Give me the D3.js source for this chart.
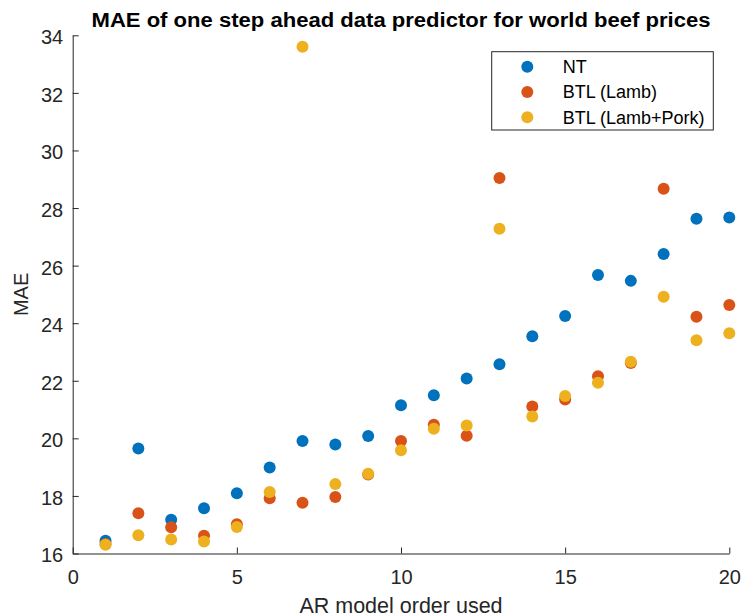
<!DOCTYPE html>
<html>
<head>
<meta charset="utf-8">
<script src="https://cdn.jsdelivr.net/npm/d3@7"></script>
<style>
  body { margin: 0; background: #fff; }
  svg { font-family: "Liberation Sans", Arial, Helvetica, sans-serif; }
  .axis path, .axis line { stroke: #262626; }
  .axis text { fill: #262626; font-size: 20px; }
</style>
</head>
<body>
<script>
// AR model orders
var orders = [1,2,3,4,5,6,7,8,9,10,11,12,13,14,15,16,17,18,19,20];

var nt = [16.44,19.65,17.17,17.57,18.09,18.99,19.91,19.79,20.08,21.15,
          21.50,22.08,22.57,23.55,24.25,25.67,25.47,26.40,27.63,27.67];
var btlLamb = [16.33,17.40,16.91,16.62,17.02,17.92,17.76,17.96,18.74,19.91,
               20.47,20.09,29.04,21.11,21.35,22.16,22.62,28.67,24.22,24.63];
var btlLambPork = [16.30,16.63,16.49,16.42,16.92,18.14,33.60,18.41,18.77,19.59,
                   20.33,20.45,27.28,20.76,21.47,21.93,22.66,24.92,23.41,23.65];

var seriesNames = ['NT', 'BTL (Lamb)', 'BTL (Lamb+Pork)'];
var seriesColors = ['#0072BD', '#D95319', '#EDB120'];
var xTicks = [0, 5, 10, 15, 20];
var yTicks = [16, 18, 20, 22, 24, 26, 28, 30, 32, 34];

var width = 742, height = 616;
var margin = { top: 35.3, right: 12.7, bottom: 62.5, left: 72.7 };

var svg = d3.select('body').append('svg')
  .attr('width', width)
  .attr('height', height);

var x = d3.scaleLinear()
  .domain([0, 20])
  .range([margin.left, width - margin.right]);

var y = d3.scaleLinear()
  .domain([16, 34])
  .range([height - margin.bottom, margin.top]);

var plotH = height - margin.top - margin.bottom;

svg.append('g')
  .attr('class', 'axis xAxis')
  .attr('transform', `translate(0, ${height - margin.bottom})`)
  .call(d3.axisBottom(x).tickValues(xTicks).tickSizeInner(-6).tickSizeOuter(0))
  .call(g => g.selectAll('text').attr('y', 30.5).attr('dy', 0));

svg.append('g')
  .attr('class', 'axis yAxis')
  .attr('transform', `translate(${margin.left}, 0)`)
  .call(d3.axisLeft(y).tickValues(yTicks).tickSizeInner(-6).tickSizeOuter(0))
  .call(g => g.selectAll('text').attr('x', -9.5).attr('dy', '0.42em'));

var data = [nt, btlLamb, btlLambPork];

data.forEach((vals, si) => {
  svg.selectAll('circle.s' + si)
    .data(vals)
    .enter()
    .append('circle')
    .attr('class', 's' + si)
    .attr('cx', (d, i) => x(orders[i]))
    .attr('cy', d => y(d))
    .attr('r', 6)
    .style('fill', seriesColors[si]);
});

svg.append('text')
  .attr('x', (margin.left + width - margin.right) / 2)
  .attr('y', 27)
  .style('text-anchor', 'middle')
  .style('font-weight', 'bold')
  .style('font-size', '20px')
  .style('fill', '#000')
  .attr('textLength', 619)
  .attr('lengthAdjust', 'spacingAndGlyphs')
  .text('MAE of one step ahead data predictor for world beef prices');

svg.append('text')
  .attr('x', (margin.left + width - margin.right) / 2)
  .attr('y', 612.5)
  .style('text-anchor', 'middle')
  .style('font-size', '21.5px')
  .style('fill', '#262626')
  .text('AR model order used');

svg.append('text')
  .attr('transform', `translate(28.3, ${margin.top + plotH / 2}) rotate(-90)`)
  .style('text-anchor', 'middle')
  .style('font-size', '20px')
  .style('fill', '#262626')
  .text('MAE');

// legend
var legend = svg.append('g').attr('transform', 'translate(491.7, 51.7)');
legend.append('rect')
  .attr('width', 221.6)
  .attr('height', 78.3)
  .style('fill', '#fff')
  .style('stroke', '#262626')
  .style('stroke-width', 1);

seriesNames.forEach((name, i) => {
  var ly = 15 + i * 25.3;
  legend.append('circle')
    .attr('cx', 35.6)
    .attr('cy', ly)
    .attr('r', 6)
    .style('fill', seriesColors[i]);
  legend.append('text')
    .attr('x', 71)
    .attr('y', ly)
    .attr('dy', '0.36em')
    .style('font-size', '18px')
    .style('fill', '#000')
    .text(name);
});
</script>
</body>
</html>
